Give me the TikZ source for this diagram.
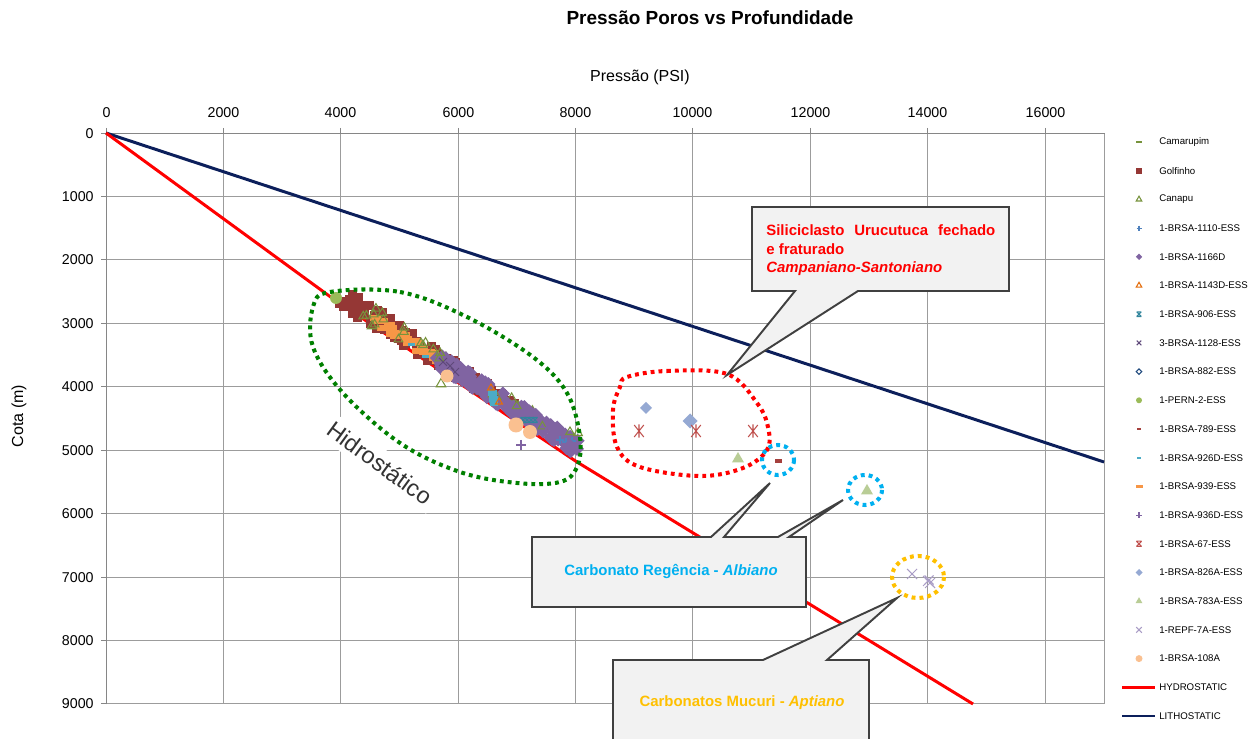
\documentclass[tikz,border=0pt]{standalone}
\usepackage{fontspec}
\setmainfont{Liberation Sans}
\usetikzlibrary{calc}

\definecolor{gridc}{HTML}{9C9C9C}
\definecolor{axisc}{HTML}{868686}
\definecolor{hydro}{HTML}{FF0000}
\definecolor{litho}{HTML}{0C1F5B}
\definecolor{cgol}{HTML}{953735}
\definecolor{ccam}{HTML}{77933C}
\definecolor{ccan}{HTML}{77933C}
\definecolor{c1110}{HTML}{4F81BD}
\definecolor{c1166}{HTML}{8064A2}
\definecolor{c1143}{HTML}{E46C0A}
\definecolor{c906}{HTML}{31859C}
\definecolor{c1128}{HTML}{5F497A}
\definecolor{c882}{HTML}{1F497D}
\definecolor{cpern}{HTML}{9BBB59}
\definecolor{c789}{HTML}{A5403D}
\definecolor{c926}{HTML}{4BACC6}
\definecolor{c939}{HTML}{F79646}
\definecolor{c936}{HTML}{8064A2}
\definecolor{c67}{HTML}{C0504D}
\definecolor{c826}{HTML}{95A9D3}
\definecolor{c783}{HTML}{B9CD96}
\definecolor{crepf}{HTML}{A99CC6}
\definecolor{c108}{HTML}{FAC090}
\definecolor{boxfill}{HTML}{F2F2F2}
\definecolor{boxline}{HTML}{404040}
\definecolor{cyanlab}{HTML}{00B0F0}
\definecolor{goldlab}{HTML}{FFC000}
\definecolor{loopgreen}{HTML}{008000}
\definecolor{hidtxt}{HTML}{333333}

\newlength\pxu
\setlength\pxu{0.02cm}

\tikzset{
  gridline/.style={draw=gridc, line width=0.85pt},
  axisline/.style={draw=axisc, line width=0.9pt},
  ticklab/.style={font=\fontsize{8.1}{9}\selectfont, inner sep=0pt},
  legtxt/.style={font=\fontsize{5.5}{6.5}\selectfont, anchor=west, inner sep=0pt},
  loopdots/.style={line width=2.3pt, dash pattern=on 2.2pt off 2.3pt},
  callout/.style={fill=boxfill, draw=boxline, line width=1.1pt, line join=miter},
  calltxt/.style={font=\bfseries\fontsize{8.5}{10}\selectfont, inner sep=0pt},
  pics/sqm/.style n args={2}{code={\fill[#1] (-#2/2,-#2/2) rectangle (#2/2,#2/2);}},
  pics/rectm/.style n args={3}{code={\fill[#1] (-#2/2,-#3/2) rectangle (#2/2,#3/2);}},
  pics/trio/.style n args={2}{code={\draw[#1, line width=0.6pt, line join=miter] (0,-#2) -- (0.866*#2,0.5*#2) -- (-0.866*#2,0.5*#2) -- cycle;}},
  pics/trif/.style n args={2}{code={\fill[#1] (0,-#2) -- (0.866*#2,0.5*#2) -- (-0.866*#2,0.5*#2) -- cycle;}},
  pics/diaf/.style n args={2}{code={\fill[#1] (0,-#2) -- (#2,0) -- (0,#2) -- (-#2,0) -- cycle;}},
  pics/diao/.style n args={2}{code={\draw[#1, line width=0.6pt] (0,-#2) -- (#2,0) -- (0,#2) -- (-#2,0) -- cycle;}},
  pics/circm/.style n args={2}{code={\fill[#1] (0,0) circle [radius=#2];}},
  pics/plusm/.style n args={2}{code={\draw[#1, line width=0.6pt] (-#2,0) -- (#2,0) (0,-#2) -- (0,#2);}},
  pics/xm/.style n args={2}{code={\draw[#1, line width=0.6pt] (-#2,-#2) -- (#2,#2) (-#2,#2) -- (#2,-#2);}},
  pics/hgm/.style n args={2}{code={\draw[#1, line width=0.6pt] (-#2,-#2) -- (#2,#2) (-#2,#2) -- (#2,-#2) (-#2,-#2) -- (#2,-#2) (-#2,#2) -- (#2,#2);}},
  pics/astm/.style n args={2}{code={\draw[#1, line width=0.6pt] (-0.8*#2,-#2) -- (0.8*#2,#2) (-0.8*#2,#2) -- (0.8*#2,-#2) (0,-1.1*#2) -- (0,1.1*#2);}},
}

% point on the axis of the main cluster: #1 = position along it (0..1), #2 = offset across it
\newcommand\bandpoint[2]{%
  \pgfmathsetmacro\cx{343+234*(#1)-0.537*(#2)}%
  \pgfmathsetmacro\cy{297+149*(#1)+0.845*(#2)}}

\begin{document}
\begin{tikzpicture}[x=0.02cm, y=-0.02cm]
\useasboundingbox (0,0) rectangle (1259,739);
\fill[white] (0,0) rectangle (1259,739);

% ---- grid and axes ----
\foreach \k in {0,...,8} {
  \pgfmathsetmacro\gx{int(106+\k*117.4)+0.5}
  \pgfmathtruncatemacro\val{\k*2000}
  \draw[gridline] (\gx,133.5) -- (\gx,704.5);
  \draw[axisline] (\gx,128) -- (\gx,133.5);
  \node[ticklab] (xlab\k) at (\gx,113) {\val};
}
\draw[gridline] (1104.5,133.5) -- (1104.5,704.5);
\foreach \k in {0,...,9} {
  \pgfmathsetmacro\gy{int(133+\k*63.44)+0.5}
  \pgfmathtruncatemacro\val{\k*1000}
  \draw[gridline] (106.5,\gy) -- (1104.5,\gy);
  \draw[axisline] (101,\gy) -- (106.5,\gy);
  \node[ticklab, anchor=east] (ylab\k) at (94,\gy) {\val};
}
\draw[axisline] (106.5,704.5) -- (106.5,133.5) -- (1104.5,133.5);

% ---- titles ----
\node[font=\bfseries\fontsize{10.8}{12}\selectfont] (title) at (710,18) {Pressão Poros vs Profundidade};
\node[font=\fontsize{9.1}{10}\selectfont] (xtitle) at (640,77) {Pressão (PSI)};
\node[font=\fontsize{9.1}{10}\selectfont, rotate=90] (ytitle) at (19,416) {Cota (m)};

% ---- gradient lines ----
\draw[litho, line width=1.7pt] (106,133) -- (1104,462);
\draw[hydro, line width=1.7pt] (106,133) -- (332,298) -- (577,462) -- (973,704);

% ---- main cluster of pressure points ----
\pgfmathsetseed{4242}
\foreach \i in {0,...,170} {
  \pgfmathsetmacro\ct{rnd*0.8}
  \pgfmathsetmacro\co{rand*(10-7*\ct)+1}
  \bandpoint{\ct}{\co}
  \pic at (\cx,\cy) {sqm={cgol}{9}};
}
\foreach \i in {0,...,22} {
  \pgfmathsetmacro\ct{0.14+\i*0.0135}
  \pgfmathsetmacro\co{2+rand*4}
  \bandpoint{\ct}{\co}
  \pic at (\cx,\cy) {rectm={c939}{11}{6}};
}
\foreach \i in {0,...,18} {
  \pgfmathsetmacro\ct{0.05+rnd*0.95}
  \pgfmathsetmacro\co{rand*7}
  \bandpoint{\ct}{\co}
  \pic at (\cx,\cy) {trio={ccan}{5}};
}
\foreach \i in {0,...,110} {
  \pgfmathsetmacro\ct{0.4+rnd*0.6}
  \pgfmathsetmacro\co{rand*6.5+1.5}
  \bandpoint{\ct}{\co}
  \pic at (\cx,\cy) {diaf={c1166}{7}};
}
\foreach \i in {0,...,14} {
  \pgfmathsetmacro\ct{0.1+rnd*0.9}
  \pgfmathsetmacro\co{rand*8}
  \bandpoint{\ct}{\co}
  \pic at (\cx,\cy) {trio={ccan}{5}};
}
% separate wells within the cluster
\pic at (492,393) {rectm={c926}{9}{6}};
\pic at (493,399) {rectm={c926}{9}{6}};
\pic at (494,404) {rectm={c926}{8}{5}};
\pic at (491,388) {trio={c1143}{4}};
\pic at (499,402) {trio={c1143}{4}};
\pic at (411,345) {rectm={c926}{7}{3}};
\pic at (425,357) {rectm={c926}{7}{3}};
\pic at (443,362) {xm={c1128}{4}};
\pic at (450,366) {xm={c1128}{4}};
\pic at (455,372) {xm={c1128}{4}};
\foreach \px in {523,527,531,535} {\pic at (\px,420) {hgm={c906}{2.5}};}
\pic at (521,445) {plusm={c936}{5}};
\pic at (546,432) {plusm={c936}{5}};
\pic at (560,440) {plusm={c1110}{4}};
\pic at (566,442) {plusm={c1110}{4}};
\pic at (572,441) {plusm={c1110}{4}};
\pic at (570,432) {trio={ccan}{5}};
\pic at (578,433) {trio={ccan}{5}};
\pic at (441,384) {trio={ccan}{5.5}};
\pic at (372,326) {trio={ccan}{5.5}};
\pic at (447,376) {circm={c108}{6.5}};
\pic at (516,425) {circm={c108}{7.5}};
\pic at (530,432) {circm={c108}{7}};
\pic at (570,446) {diaf={c1166}{7}};
\pic at (577,449) {diaf={c1166}{7}};
\pic at (336,298) {circm={cpern}{6}};

% ---- isolated points ----
\pic at (646,408) {diaf={c826}{6}};
\pic at (690,421) {diaf={c826}{7.5}};
\pic at (639,431) {astm={c67}{6}};
\pic at (696,431) {astm={c67}{6}};
\pic at (753,431) {astm={c67}{6}};
\pic at (738,459) {trif={c783}{7}};
\pic at (867,491) {trif={c783}{7}};
\pic at (778,461) {rectm={c789}{7}{3.5}};
\pic at (912,574) {xm={crepf}{5}};
\pic at (928,581) {xm={crepf}{5}};
\pic at (930,583) {xm={crepf}{5}};
\pic at (929,580) {xm={crepf}{4.5}};

% ---- highlighted groups ----
\draw[loopgreen, loopdots] plot[smooth cycle, tension=0.6] coordinates {
  (330,292) (400,292) (467,317) (533,357) (567,393) (580,437) (577,467)
  (560,482) (517,483) (460,472) (400,443) (343,393) (313,347) (313,307)};
\draw[red, loopdots] plot[smooth cycle, tension=0.6] coordinates {
  (627,377) (667,371) (727,374) (757,403) (768,427) (767,450) (743,468)
  (700,476) (640,467) (617,447) (613,410) (620,387)};
\draw[cyanlab, loopdots] (778,460) ellipse [x radius=16, y radius=15];
\draw[cyanlab, loopdots] (865,490) ellipse [x radius=17, y radius=15];
\draw[goldlab, loopdots] (918,577) ellipse [x radius=26, y radius=21];

\node[font=\fontsize{13.3}{15}\selectfont, text=hidtxt, fill=white, rotate=-36, inner sep=3pt] (hidlabel) at (380,463) {Hidrostático};

% ---- callouts ----
\draw[callout] (752,207) -- (1009,207) -- (1009,291) -- (858,291) -- (727,375) -- (795,291) -- (752,291) -- cycle;
\node[calltxt, text=red, anchor=base west] (sc1) at (766,236) {\makebox[229\pxu][s]{Siliciclasto\hfill Urucutuca\hfill fechado}};
\node[calltxt, text=red, anchor=base west] (sc2) at (766,255) {e fraturado};
\node[calltxt, text=red, anchor=base west] (sc3) at (766,273) {\textit{Campaniano-Santoniano}};

\draw[callout] (532,537) -- (711,537) -- (770,483) -- (724,537) -- (778,537) -- (843,500) -- (789,537) -- (806,537) -- (806,607) -- (532,607) -- cycle;
\node[calltxt, text=cyanlab] (creg) at (671,572) {Carbonato Regência - \textit{Albiano}};

\draw[callout] (613,750) -- (613,660) -- (763,660) -- (897,598) -- (827,660) -- (869,660) -- (869,750);
\node[calltxt, text=goldlab] (cmuc) at (742,703) {Carbonatos Mucuri - \textit{Aptiano}};

% ---- legend ----
\foreach \nm [count=\i from 0] in {Camarupim, Golfinho, Canapu, 1-BRSA-1110-ESS, 1-BRSA-1166D,
  1-BRSA-1143D-ESS, 1-BRSA-906-ESS, 3-BRSA-1128-ESS, 1-BRSA-882-ESS, 1-PERN-2-ESS,
  1-BRSA-789-ESS, 1-BRSA-926D-ESS, 1-BRSA-939-ESS, 1-BRSA-936D-ESS, 1-BRSA-67-ESS,
  1-BRSA-826A-ESS, 1-BRSA-783A-ESS, 1-REPF-7A-ESS, 1-BRSA-108A, HYDROSTATIC, LITHOSTATIC} {
  \pgfmathsetmacro\ly{142+\i*28.7}
  \node[legtxt] (leg\i) at (1159,\ly) {\nm};
}
\pic at (1139,142.0) {rectm={ccam}{6}{2}};
\pic at (1139,170.7) {sqm={cgol}{6}};
\pic at (1139,199.4) {trio={ccan}{3.2}};
\pic at (1139,228.1) {plusm={c1110}{2.5}};
\pic at (1139,256.8) {diaf={c1166}{3.2}};
\pic at (1139,285.5) {trio={c1143}{3.2}};
\pic at (1139,314.2) {hgm={c906}{2.3}};
\pic at (1139,342.9) {xm={c1128}{2.3}};
\pic at (1139,371.6) {diao={c882}{2.8}};
\pic at (1139,400.3) {circm={cpern}{3}};
\pic at (1139,429.0) {rectm={c789}{4}{2}};
\pic at (1139,457.7) {rectm={c926}{4}{2}};
\pic at (1139,486.4) {rectm={c939}{7}{2.5}};
\pic at (1139,515.1) {plusm={c936}{3}};
\pic at (1139,543.8) {hgm={c67}{2.6}};
\pic at (1139,572.5) {diaf={c826}{3.5}};
\pic at (1139,601.2) {trif={c783}{4}};
\pic at (1139,629.9) {xm={crepf}{2.8}};
\pic at (1139,658.6) {circm={c108}{3.5}};
\draw[hydro, line width=1.7pt] (1122,687.3) -- (1155,687.3);
\draw[litho, line width=1.7pt] (1122,716.0) -- (1155,716.0);
\end{tikzpicture}
\end{document}
